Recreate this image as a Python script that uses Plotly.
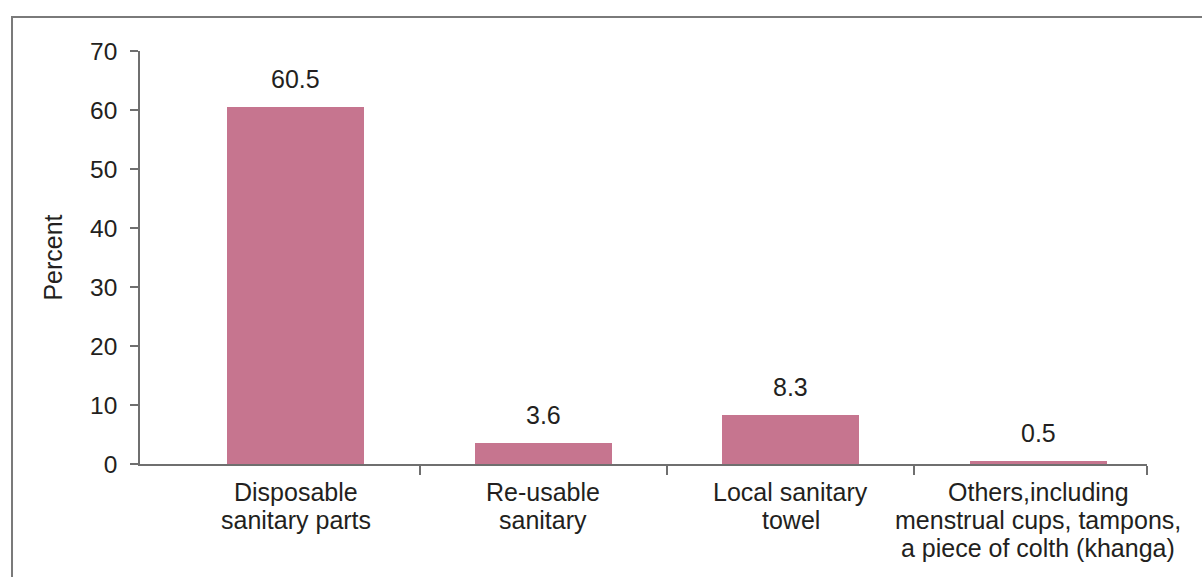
import plotly.graph_objects as go

# Menstrual product use (percent of respondents)
categories = [
    "Disposable<br>sanitary parts",
    "Re-usable<br>sanitary",
    "Local sanitary<br>towel",
    "Others,including<br>menstrual cups, tampons,<br>a piece of colth (khanga)",
]
percent = [60.5, 3.6, 8.3, 0.5]
y_ticks = [0, 10, 20, 30, 40, 50, 60, 70]

BAR_COLOR = "#C6758F"
AXIS_COLOR = "#6F6F6F"
TEXT_COLOR = "#231F20"
FONT = "Arial, Liberation Sans, sans-serif"

positions = list(range(len(categories)))
x_lo, x_hi = -0.63, 3.44

fig = go.Figure()
fig.add_trace(go.Bar(
    x=positions,
    y=percent,
    width=0.553,
    marker=dict(color=BAR_COLOR, line=dict(width=0)),
    hoverinfo="skip",
))

# value labels above each bar
for xi, v in zip(positions, percent):
    fig.add_annotation(
        x=xi, y=v, text=f"{v}", showarrow=False,
        xanchor="center", yanchor="bottom", yshift=12,
        font=dict(family=FONT, size=25, color=TEXT_COLOR),
    )

# category labels, one line each with tight line spacing
LINE_STEP = 28
for xi, cat in zip(positions, categories):
    for k, line in enumerate(cat.split("<br>")):
        fig.add_annotation(
            x=xi, xref="x", y=0, yref="paper", text=line, showarrow=False,
            xanchor="center", yanchor="top", yshift=-12 - k * LINE_STEP,
            font=dict(family=FONT, size=25, color=TEXT_COLOR),
        )

# open frame: left and top border lines
fig.add_shape(
    type="path", xref="paper", yref="paper",
    path="M -0.1271,-0.35 L -0.1271,1.0823 L 1.2,1.0823",
    line=dict(color="#7A7A7A", width=2),
)

fig.update_layout(
    width=1202, height=577,
    margin=dict(l=140, r=55, t=51, b=113),
    paper_bgcolor="white", plot_bgcolor="white",
    showlegend=False,
    bargap=0,
    font=dict(family=FONT, color=TEXT_COLOR),
    xaxis=dict(
        range=[x_lo, x_hi],
        tickvals=positions, ticktext=["" for _ in categories],
        ticks="", showgrid=False, zeroline=False,
        showline=True, linecolor=AXIS_COLOR, linewidth=1.5,
        minor=dict(
            tickvals=[0.5, 1.5, 2.5, x_hi], ticks="outside",
            ticklen=9, tickcolor=AXIS_COLOR, tickwidth=1.5, showgrid=False,
        ),
        fixedrange=True,
    ),
    yaxis=dict(
        range=[0, 70], tickvals=y_ticks,
        ticks="outside", ticklen=8, tickcolor=AXIS_COLOR, tickwidth=1.5,
        showgrid=False, zeroline=False,
        showline=True, linecolor=AXIS_COLOR, linewidth=1.5,
        tickfont=dict(family=FONT, size=24.5, color=TEXT_COLOR),
        ticklabelstandoff=8,
        title=dict(text="Percent", standoff=20,
                   font=dict(family=FONT, size=25, color=TEXT_COLOR)),
        fixedrange=True,
    ),
)

fig.write_html("out.html")
